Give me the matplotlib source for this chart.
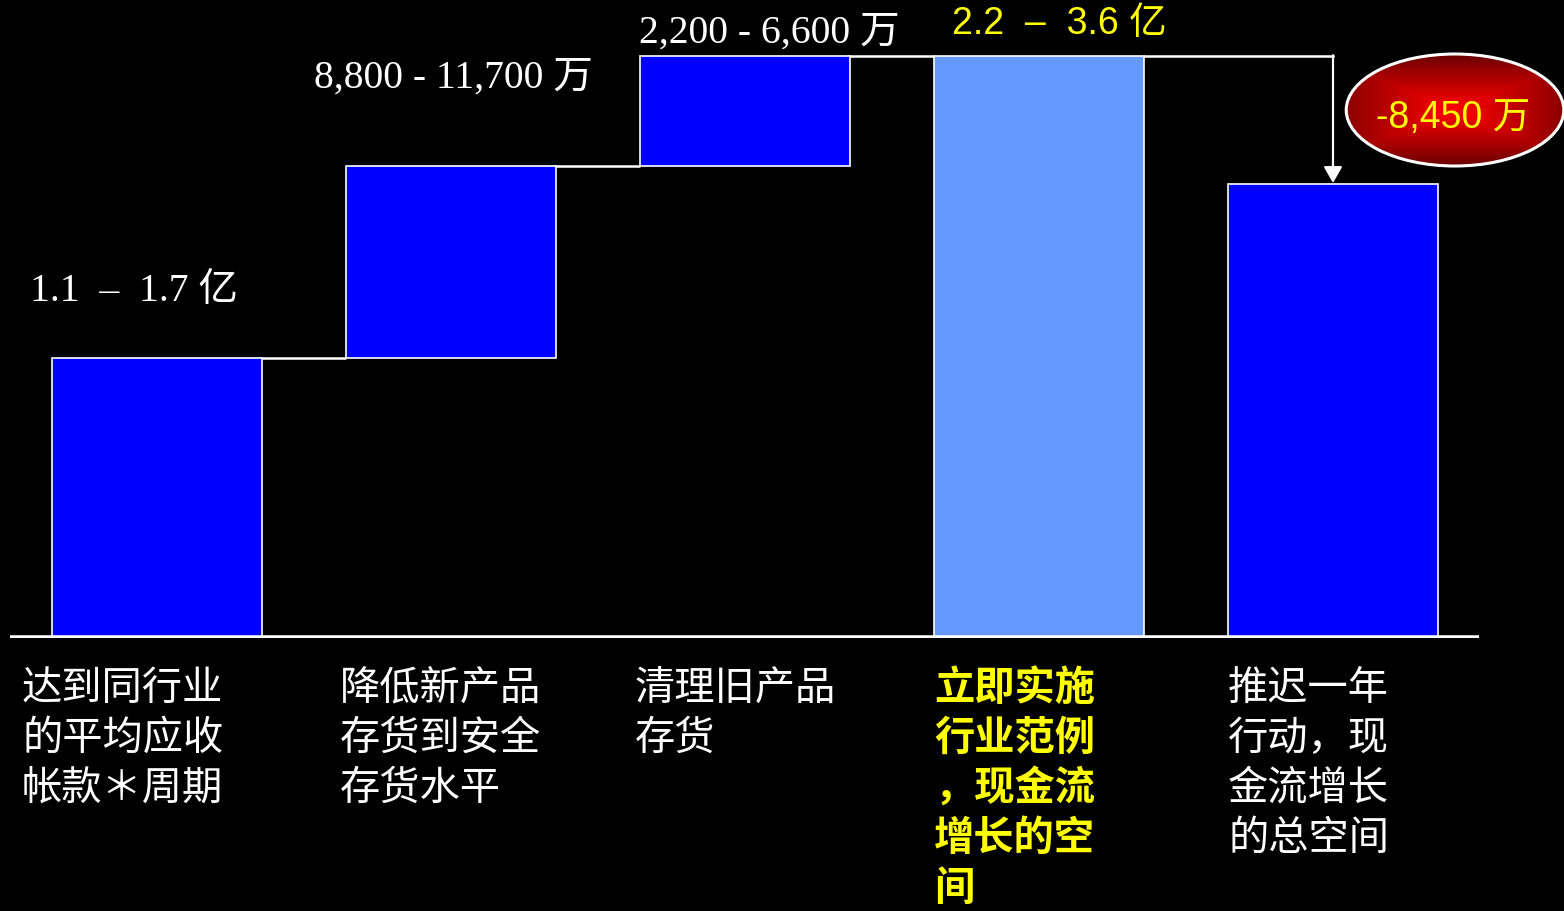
import numpy as np
import matplotlib
matplotlib.use("Agg")
import matplotlib.pyplot as plt
from matplotlib.patches import Ellipse
from matplotlib.colors import LinearSegmentedColormap

# ---- data ----
categories = ["达到同行业\n的平均应收\n帐款＊周期",
              "降低新产品\n存货到安全\n存货水平",
              "清理旧产品\n存货",
              "立即实施\n行业范例\n，现金流\n增长的空\n间",
              "推迟一年\n行动，现\n金流增长\n的总空间"]
steps = [2.80, 1.92, 1.10]          # incremental contributions (relative units)
delay_drop = 1.28                    # loss from one-year delay (relative units)
value_labels = ["1.1  –  1.7 亿", "8,800 - 11,700 万", "2,200 - 6,600 万", "2.2  –  3.6 亿"]
drop_label = "-8,450 万"

total = sum(steps)
final = total - delay_drop
bottoms = [0, steps[0], steps[0] + steps[1], 0, 0]
heights = [steps[0], steps[1], steps[2], total, final]

BLUE = "#0000FF"
LIGHT = "#6699FF"
YELLOW = "#FFFF00"

XR = -0.5 + 1554 / 294.0

fig = plt.figure(figsize=(15.64, 9.11), dpi=100, facecolor="black")
ax = fig.add_axes([10/1564, 273/911, 1554/1564, 638/911])
ax.set_facecolor("black")
ax.axis("off")

x = np.arange(len(categories))
colors = [BLUE, BLUE, BLUE, LIGHT, BLUE]
w = 0.714
ax.bar(x, heights, bottom=bottoms, width=w, color=colors, edgecolor="white",
       linewidth=1.2, zorder=3)

# baseline
ax.plot([-0.5, 4.495], [0, 0], color="white", lw=4, zorder=4, solid_capstyle="butt")

# connectors
tops = [b + h for b, h in zip(bottoms, heights)]
for i in range(3):
    ax.plot([x[i] + w/2 - 0.01, x[i+1] - w/2], [tops[i], tops[i]], color="white",
            lw=1.8, zorder=2, solid_capstyle="butt")
ax.plot([x[3] + w/2, x[4]], [total, total], color="white", lw=1.8, zorder=2)
ax.annotate("", xy=(x[4], final + 0.01), xytext=(x[4], total + 0.008),
            arrowprops=dict(arrowstyle="-|>,head_width=0.4,head_length=0.7",
                            mutation_scale=14, color="white", lw=1.6,
                            shrinkA=0, shrinkB=0), zorder=5)

# value labels above bars
serif = ["Liberation Serif", "Noto Sans CJK SC"]
sans = ["Liberation Sans", "Noto Sans CJK SC"]
offsets = [(-23, 66), (2, 88), (24, 23), (20, 32)]
for i, lab in enumerate(value_labels):
    if i < 3:
        ax.annotate(lab, xy=(x[i], tops[i]), xytext=offsets[i], textcoords="offset pixels",
                    ha="center", va="center", color="white", fontsize=28.5, family=serif)
    else:
        ax.annotate(lab, xy=(x[i], tops[i]), xytext=offsets[i], textcoords="offset pixels",
                    ha="center", va="center", color=YELLOW, fontsize=27, family=sans)

# ellipse with gradient
ecx, ecy = x[4] + 0.415, total - 0.54
ew, eh = 0.74, 1.12
gx = np.linspace(-1, 1, 300)
gy = np.linspace(-1, 1, 200)
GX, GY = np.meshgrid(gx, gy)
d = np.maximum(np.abs(GX) * 0.8, np.abs(GY))
cmap = LinearSegmentedColormap.from_list("rg", ["#FF0000", "#D00000", "#A00000", "#6A0000"])
im = ax.imshow(d, cmap=cmap, extent=[ecx - ew/2, ecx + ew/2, ecy - eh/2, ecy + eh/2],
               aspect="auto", zorder=6, origin="lower")
ell = Ellipse((ecx, ecy), ew, eh, facecolor="none", edgecolor="white", lw=2.2, zorder=7)
ax.add_patch(ell)
im.set_clip_path(ell)
ax.annotate(drop_label, xy=(ecx, ecy), xytext=(-2, -8), textcoords="offset pixels",
            ha="center", va="center", color=YELLOW, fontsize=27, family=sans, zorder=8)
ax.set_xlim(-0.5, XR)
ax.set_ylim(0, 6.38)

# category labels below
lab_dx = [-30, -6, -5, 0, 0]
for i, lab in enumerate(categories):
    hl = i == 3
    ax.annotate(lab, xy=(x[i] - w/2, 0), xytext=(lab_dx[i], -30), textcoords="offset pixels",
                ha="left", va="top", color=YELLOW if hl else "white", fontsize=29,
                family=["Noto Sans CJK SC", "DejaVu Sans"],
                fontweight="bold" if hl else "normal", linespacing=1.28)

fig.savefig("out.png", dpi=100, facecolor="black")
